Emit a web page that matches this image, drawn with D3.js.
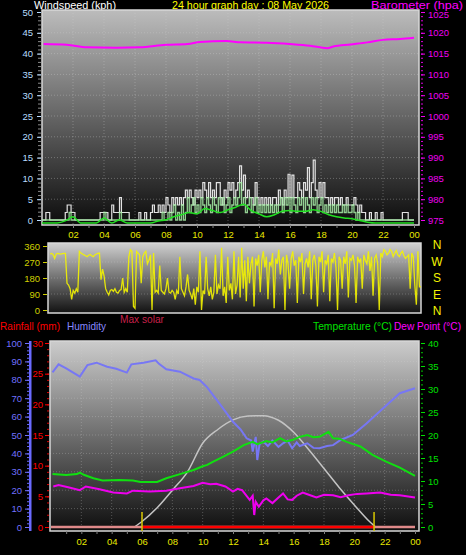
<!DOCTYPE html>
<html><head><meta charset="utf-8">
<script src="https://cdn.jsdelivr.net/npm/d3@7"></script>
<style>
body{margin:0;background:#000;}
svg{display:block;font-family:"Liberation Sans",Arial,sans-serif;}
</style>
</head><body>
<svg id="c" width="466" height="555"></svg>
<script>
// ---------------- DATA ----------------
const titleText = "24 hour graph day : 08 May 2026";
const hourTicks = [2,4,6,8,10,12,14,16,18,20,22,24];

// Barometer (hPa)
const baroHours  = [0.1,1.6,2.9,4.8,6.3,8.0,9.4,10.2,11.9,12.8,14.5,16,17.3,18.4,18.8,19.9,21,22,23.1,24];
const baroValues = [1017.3,1017.1,1016.5,1016.4,1016.5,1017.1,1017.3,1017.8,1018.0,1017.7,1017.6,1017.3,1016.9,1016.3,1016.7,1017.2,1017.7,1018.3,1018.5,1018.8];

// Wind gust (kph), every 0.125 h
const windStep = 0.125;
const gustValues = [
0,0,1.8,1.8,0,0,0,0,
0,0,0,0,1.8,3.6,3.6,1.8,
1.8,0,0,0,0,0,0,0,
0,0,0,0,0,0,1.8,1.8,
1.8,1.8,0,0,3.6,1.8,1.8,1.8,
5.4,1.8,1.8,1.8,1.8,0,0,0,
0,0,1.8,0,0,1.8,0,0,
1.8,3.6,1.8,1.8,3.6,1.8,3.6,1.8,
5.4,3.6,1.8,5.4,3.6,5.4,3.6,5.4,
3.6,5.4,7.2,5.4,7.2,5.4,3.6,7.2,
5.4,7.2,5.4,9,7.2,5.4,9,5.4,
7.2,5.4,9,9,5.4,3.6,7.2,5.4,
9,7.2,9,5.4,7.2,9,13,7.2,
10.8,5.4,7.2,5.4,5.4,3.6,9,5.4,
3.6,5.4,3.6,5.4,3.6,5.4,3.6,5.4,
5.4,3.6,7.2,5.4,3.6,7.2,5.4,11,
5.4,10.8,5.4,5.4,9,7.2,5.4,9,
7.2,12.6,5.4,9,14.4,7.2,5.4,9,
5.4,9,5.4,5.4,3.6,5.4,3.6,5.4,
5.4,3.6,5.4,3.6,3.6,5.4,3.6,3.6,
3.6,5.4,3.6,1.8,3.6,1.8,1.8,0,
0,1.8,0,0,1.8,0,0,1.8,
0,0,0,0,0,0,0,0,
0,0,1.8,1.8,1.8,0,0,0,
0];

// Wind speed (kph), every 0.125 h
const speedValues = [
0,0,0,0,0,0,0,0,
0,0,0,0,0,0,1.8,0,
0,0,0,0,0,0,0,0,
0,0,0,0,0,0,0,0,
1.8,0,0,0,0,0,0,0,
1.8,0,0,0,0,0,0,0,
0,0,0,0,0,0,0,0,
0,0,0,0,0,0,1.8,0,
0,1.8,0,1.8,3.6,0,1.8,0,
3.6,0,1.8,5.4,1.8,3.6,5.4,1.8,
3.6,1.8,5.4,3.6,1.8,5.4,3.6,1.8,
5.4,3.6,1.8,5.4,3.6,5.4,1.8,3.6,
5.4,1.8,3.6,5.4,3.6,5.4,9,3.6,
5.4,1.8,3.6,5.4,1.8,3.6,5.4,1.8,
3.6,1.8,3.6,1.8,3.6,1.8,3.6,1.8,
3.6,1.8,3.6,5.4,1.8,5.4,3.6,5.4,
1.8,5.4,3.6,1.8,5.4,3.6,5.4,1.8,
5.4,3.6,1.8,5.4,3.6,5.4,1.8,3.6,
5.4,1.8,3.6,1.8,3.6,1.8,3.6,1.8,
3.6,1.8,1.8,3.6,1.8,3.6,1.8,1.8,
3.6,1.8,0,1.8,0,0,0,0,
0,0,0,0,0,0,0,0,
0,0,0,0,0,0,0,0,
0,0,0,0,0,0,0,0,
0];

// Average wind (kph), every 0.5 h
const avgStep = 0.5;
const avgValues = [0,0,0,0.5,1.5,0,0,0,1.2,0,0.8,0,0,0,0,0.5,0.8,1.5,2,2.5,2.2,3.5,3,2.5,3.2,3.8,4.5,3,2.2,1.5,2,2.8,3,2.8,2.8,3.2,2.8,2,1.5,1.2,1,0.6,0.2,0,0,0,0,0,0];

// Wind direction (degrees), every 0.1 h
const dirStep = 0.1;
const dirValues = [
315,318,312,290,315,318,316,314,317,318,
318,150,140,120,60,110,95,120,100,330,
320,315,310,305,300,308,312,305,300,310,
315,318,320,170,230,190,120,100,85,110,
115,105,120,100,95,110,115,180,100,120,
100,300,340,330,20,10,330,320,310,150,
300,320,330,260,280,310,0,320,100,110,
95,250,110,100,90,120,180,100,95,110,
100,60,110,90,300,120,100,80,130,200,
110,90,60,120,30,130,100,330,0,110,
90,300,120,80,130,60,100,310,90,140,
120,350,80,130,40,300,110,150,60,330,
90,140,300,70,350,120,280,50,300,150,
260,300,20,290,250,310,100,280,330,240,
300,60,270,250,320,10,290,260,340,200,
280,300,0,310,260,120,290,330,250,280,
40,300,270,320,90,260,290,240,330,60,
280,310,250,20,300,270,330,100,280,260,
310,50,290,270,320,240,0,300,280,120,
300,260,330,70,290,280,310,250,40,300,
270,290,120,310,280,260,330,220,300,80,
290,310,260,0,320,300,340,330,310,320,
340,330,300,320,335,310,300,320,330,305,
290,300,310,120,320,300,140,30,330,130,
130];
const compassLabels = ["N","W","S","E","N"];

// Humidity (%)
const humHours  = [0.1,0.5,1.0,1.9,2.4,3.0,3.7,4.3,5.0,5.3,6.1,6.9,7.1,7.6,8.5,9.4,9.8,10.3,11.1,12.0,12.5,12.9,13.2,13.3,13.5,13.6,13.75,14.0,14.3,14.6,15.0,15.3,15.6,15.9,16.2,16.4,16.9,17.3,17.7,18.2,18.6,19.1,19.9,20.8,21.9,23.0,24.0];
const humValues = [84,88.4,86.2,81.7,88,89.3,87.1,86,83.9,88.4,89.3,90.6,88.9,85.7,84.4,80.7,79.9,75.9,67.2,57.2,53,48.2,47,41,49,36.4,45,46.4,44,47,43.5,45.5,47,42.8,46,44,45.5,43,42.8,44,44.5,47.3,50,56.3,64.5,72.7,75.4];

// Temperature (°C)
const tempHours  = [0.1,1.0,1.7,1.9,2.2,2.8,3.4,4.5,5.4,5.9,7.0,7.6,8.5,9.4,10.0,10.3,10.7,11.3,12.0,12.7,13.3,13.6,14.2,14.6,15.1,15.5,15.9,16.4,16.9,17.3,17.7,18.3,18.6,19.0,19.5,20.4,21.2,22.1,23.0,24.0];
const tempValues = [11.5,11.3,11.5,11.8,11.3,10.6,10.1,10.2,10.1,9.8,9.8,10.6,11.5,12.4,13.2,13.5,14.2,15.2,16.4,17.8,18.5,18.0,18.7,18.4,19.3,18.6,18.9,19.6,20,19.5,19.6,20.7,19.3,19.2,18.5,17.5,15.7,14.2,12.9,11.1];

// Dew point (°C)
const dewHours  = [0.15,0.5,1.2,1.9,2.3,3.2,4.1,5.0,5.4,6.5,7.6,8.5,9.4,10.0,10.5,10.9,11.5,12.0,12.3,12.6,13.1,13.3,13.4,13.5,13.7,14.0,14.2,14.6,15.0,15.3,15.6,15.9,16.2,16.6,17.0,17.5,18.0,18.6,19.1,19.6,20.2,20.8,21.7,22.4,23.0,24.0];
const dewValues = [8.8,9.1,8.6,8.0,8.8,8.2,7.5,7.3,7.9,7.7,7.9,8.4,8.9,9.6,9.3,9.4,8.8,7.7,8.3,8.0,5.9,6.8,2.6,5.5,4.4,5.8,6.2,5.2,6.4,7.3,6.0,5.9,6.8,7.5,7.0,6.4,7.0,6.9,6.5,6.9,7.2,7.3,7.5,7.0,6.9,6.4];

// Max solar (W/m²)
const solarHours  = [5.5,6,7,8,9,10,11,12,13,14,15,16,17,18,19,20,21,21.4];
const solarValues = [0,30,105,200,300,455,530,582,603,605,580,515,420,318,215,120,30,0];

// Rainfall (mm)
const rainHours  = [0,24];
const rainValues = [0,0];

// Sunrise / sunset (h)
const sunEvents = [6.0, 21.3];

// ---------------- DRAWING ----------------
const svg = d3.select("#c");
const defs = svg.append("defs");
const FONT = "'Liberation Sans', Arial, sans-serif";
function vgrad(id, top, bot){
  const g = defs.append("linearGradient").attr("id",id).attr("x1",0).attr("y1",0).attr("x2",0).attr("y2",1);
  g.append("stop").attr("offset","0%").attr("stop-color",top);
  g.append("stop").attr("offset","100%").attr("stop-color",bot);
}
vgrad("g1","#bcbcbc","#0c0c0c");
vgrad("g2","#d0d0d0","#121212");
vgrad("g3","#cccccc","#0e0e0e");

const P1 = {l:42,r:419,t:10,b:225};
const P2 = {l:48,r:421,t:243,b:313};
const P3 = {l:50,r:419,t:341,b:531};

function txt(x,y,s,color,size,anchor,len){
  const t = svg.append("text").attr("x",x).attr("y",y).text(s).attr("fill",color)
    .attr("font-size",size).attr("font-family",FONT).attr("text-anchor",anchor||"start");
  if(len) t.attr("textLength",len).attr("lengthAdjust","spacingAndGlyphs");
  return t;
}
function style(g,color,size){
  g.selectAll("path.domain").remove();
  g.selectAll("line").attr("stroke",color);
  g.selectAll("text").attr("fill",color).attr("font-size",size).attr("font-family",FONT);
  return g;
}
function panel(P,gid){
  svg.append("rect").attr("x",P.l).attr("y",P.t).attr("width",P.r-P.l).attr("height",P.b-P.t)
    .attr("fill",`url(#${gid})`).attr("stroke","#d8d8d8").attr("stroke-width",1.5);
}
const hfmt = h => String(h%24).padStart(2,"0");
const nfmt = d3.format("d");

// headers (drawn first so panel covers descenders)
txt(34,8.5,"Windspeed (kph)","#ffffff",10.8,"start",82);
txt(172,8.5,titleText,"#ffff00",10.8,"start",157);
txt(371,8.5,"Barometer (hpa)","#ff00ff",10.8,"start",92);

// ===== Panel 1: wind & barometer =====
panel(P1,"g1");
const x1 = d3.scaleLinear([0,24],[42,414]);
const yW = d3.scaleLinear([0,50],[220,12]);
const yB = d3.scaleLinear([975,1025],[220,12]);
const grid1 = svg.append("g").attr("stroke","#d0d0d0").attr("stroke-opacity",0.35).attr("stroke-dasharray","1,2");
hourTicks.slice(0,-1).forEach(h=>grid1.append("line").attr("x1",x1(h)).attr("x2",x1(h)).attr("y1",P1.t).attr("y2",P1.b));
d3.range(5,50,5).forEach(v=>grid1.append("line").attr("x1",P1.l).attr("x2",P1.r).attr("y1",yW(v)).attr("y2",yW(v)));

style(svg.append("g").attr("transform","translate(41,0)").call(d3.axisLeft(yW).tickValues(d3.range(0,51,1)).tickSize(3).tickFormat("")),"#8a8a8a",9);
style(svg.append("g").attr("transform","translate(41,0)").call(d3.axisLeft(yW).tickValues(d3.range(0,51,5)).tickSize(4).tickPadding(4).tickFormat(nfmt)),"#b8dcff",9.5);
style(svg.append("g").attr("transform","translate(421,0)").call(d3.axisRight(yB).tickValues(d3.range(975,1026,1)).tickSize(2).tickFormat("")),"#e000e0",9);
const rb = style(svg.append("g").attr("transform","translate(421,0)").call(d3.axisRight(yB).tickValues(d3.range(975,1026,5)).tickSize(4).tickPadding(3).tickFormat(nfmt)),"#f000f0",9.5);
rb.selectAll("text").filter(d=>d===1025).attr("dy","0.62em");
style(svg.append("g").attr("transform",`translate(0,${P1.b})`).call(d3.axisBottom(x1).tickValues(d3.range(1,25,1)).tickSize(3).tickFormat("")),"#808080",9);
const ax1 = svg.append("g").attr("transform",`translate(0,${P1.b})`).call(d3.axisBottom(x1).tickValues(hourTicks).tickSize(0).tickPadding(6).tickFormat(hfmt));
style(ax1,"#e8e800",9.5);

const windLine = d3.line().x((d,i)=>x1(i*windStep)).y(d=>yW(d)).curve(d3.curveStepAfter);
svg.append("path").attr("d",windLine(gustValues)).attr("fill","none").attr("stroke","#e2e2e2").attr("stroke-width",1.2);
svg.append("path").attr("d",windLine(speedValues)).attr("fill","none").attr("stroke","#a8f0a8").attr("stroke-width",1.3).attr("stroke-opacity",0.85);
const avgLine = d3.line().x((d,i)=>x1(i*avgStep)).y(d=>yW(d)).curve(d3.curveMonotoneX);
svg.append("path").attr("d",avgLine(avgValues)).attr("transform","translate(0,3)").attr("fill","none").attr("stroke","#22e022").attr("stroke-width",1.5);
const baroLine = d3.line().x((d,i)=>x1(baroHours[i])).y(d=>yB(d)).curve(d3.curveMonotoneX);
svg.append("path").attr("d",baroLine(baroValues)).attr("fill","none").attr("stroke","#ff00ff").attr("stroke-width",2);

// ===== Panel 2: wind direction =====
panel(P2,"g2");
const x2 = d3.scaleLinear([0,24],[50,421]);
const yD = d3.scaleLinear([0,360],[310,246]);
const grid2 = svg.append("g").attr("stroke","#d0d0d0").attr("stroke-opacity",0.3).attr("stroke-dasharray","1,2");
[90,180,270].forEach(v=>grid2.append("line").attr("x1",P2.l).attr("x2",P2.r).attr("y1",yD(v)).attr("y2",yD(v)));
style(svg.append("g").attr("transform","translate(47,0)").call(d3.axisLeft(yD).tickValues([0,90,180,270,360]).tickSize(4).tickPadding(3).tickFormat(nfmt)),"#d0d000",9.5);
const dirLine = d3.line().x((d,i)=>x2(i*dirStep)).y(d=>yD(d));
svg.append("path").attr("d",dirLine(dirValues)).attr("fill","none").attr("stroke","#f4f400").attr("stroke-width",1.3).attr("stroke-opacity",0.9);
compassLabels.forEach((c,i)=>txt(437,249+i*16.5,c,"#f4f400",12,"middle"));

// ===== Panel 3 headers =====
txt(0,330,"Rainfall (mm)","#ff0000",10.5,"start",60);
txt(67,330,"Humidity","#8888ff",10.5,"start",39);
txt(120,323,"Max solar","#c8204a",10.5,"start",44);
txt(313,330,"Temperature (°C)","#00e000",10.3,"start",79);
txt(394,330,"Dew Point (°C)","#ff00ff",10.3,"start",67);

// ===== Panel 3 =====
panel(P3,"g3");
const x3 = d3.scaleLinear([0,24],[51,415]);
const yH = d3.scaleLinear([0,100],[527,343]);
const yR = d3.scaleLinear([0,30],[527,343]);
const yT = d3.scaleLinear([0,40],[527,343]);
const yS = d3.scaleLinear([0,1000],[527,343]);
const grid3 = svg.append("g").attr("stroke","#d0d0d0").attr("stroke-opacity",0.3).attr("stroke-dasharray","1,2");
hourTicks.slice(0,-1).forEach(h=>grid3.append("line").attr("x1",x3(h)).attr("x2",x3(h)).attr("y1",P3.t).attr("y2",P3.b));
d3.range(10,100,10).forEach(v=>grid3.append("line").attr("x1",P3.l).attr("x2",P3.r).attr("y1",yH(v)).attr("y2",yH(v)));

// humidity axis
svg.append("rect").attr("x",29).attr("y",P3.t).attr("width",2.5).attr("height",P3.b-P3.t).attr("fill","#6a6aff");
style(svg.append("g").attr("transform","translate(29,0)").call(d3.axisLeft(yH).tickValues(d3.range(0,101,2)).tickSize(2).tickFormat("")),"#6a6aff",9);
style(svg.append("g").attr("transform","translate(29,0)").call(d3.axisLeft(yH).tickValues(d3.range(0,101,10)).tickSize(4).tickPadding(3).tickFormat(nfmt)),"#7070ff",9.5);
// rain axis
style(svg.append("g").attr("transform","translate(49,0)").call(d3.axisLeft(yR).tickValues(d3.range(0,31,1)).tickSize(2).tickFormat("")),"#e00000",9);
style(svg.append("g").attr("transform","translate(49,0)").call(d3.axisLeft(yR).tickValues(d3.range(0,31,5)).tickSize(4).tickPadding(2).tickFormat(nfmt)),"#ff0000",9.5);
// temp axis
style(svg.append("g").attr("transform","translate(421,0)").call(d3.axisRight(yT).tickValues(d3.range(0,41,1)).tickSize(2).tickFormat("")),"#00c000",9);
style(svg.append("g").attr("transform","translate(421,0)").call(d3.axisRight(yT).tickValues(d3.range(0,41,5)).tickSize(4).tickPadding(3).tickFormat(nfmt)),"#00e000",9.5);
// x axis
style(svg.append("g").attr("transform",`translate(0,${P3.b})`).call(d3.axisBottom(x3).tickValues(d3.range(1,25,1)).tickSize(3).tickFormat("")),"#808080",9);
style(svg.append("g").attr("transform",`translate(0,${P3.b})`).call(d3.axisBottom(x3).tickValues(hourTicks).tickSize(0).tickPadding(7).tickFormat(hfmt)),"#e8e800",9.5);

// series
const mk = (hrs,ys) => d3.line().x((d,i)=>x3(hrs[i])).y(d=>ys(d));
svg.append("path").attr("d",mk(solarHours,yS).curve(d3.curveMonotoneX)(solarValues)).attr("fill","none").attr("stroke","#c4c4c4").attr("stroke-width",1.5);
svg.append("path").attr("d",mk(humHours,yH)(humValues)).attr("fill","none").attr("stroke","#7777f4").attr("stroke-width",2);
svg.append("path").attr("d",mk(tempHours,yT)(tempValues)).attr("fill","none").attr("stroke","#10e010").attr("stroke-width",2);
svg.append("path").attr("d",mk(dewHours,yT)(dewValues)).attr("fill","none").attr("stroke","#ee00ee").attr("stroke-width",2);
// rain: pale at night, red during daylight
svg.append("path").attr("d",mk(rainHours,yR)(rainValues)).attr("fill","none").attr("stroke","#e08a8a").attr("stroke-width",2.5);
defs.append("clipPath").attr("id","day").append("rect").attr("x",x3(sunEvents[0])).attr("y",P3.t).attr("width",x3(sunEvents[1])-x3(sunEvents[0])).attr("height",P3.b-P3.t+5);
svg.append("path").attr("d",mk(rainHours,yR)(rainValues)).attr("clip-path","url(#day)").attr("fill","none").attr("stroke","#ff0000").attr("stroke-width",2.5);
sunEvents.forEach(h=>svg.append("line").attr("x1",x3(h)).attr("x2",x3(h)).attr("y1",512).attr("y2",P3.b).attr("stroke","#d8c800").attr("stroke-width",1.5));
</script>
</body></html>
